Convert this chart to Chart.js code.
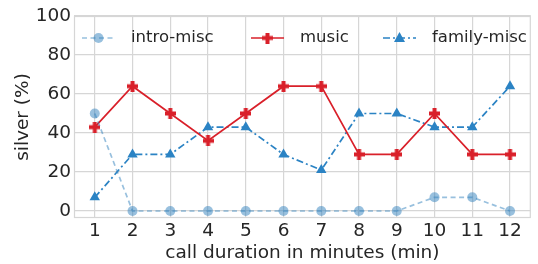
<!DOCTYPE html>
<html><head><meta charset="utf-8">
<script src="https://cdn.jsdelivr.net/npm/chart.js@4.4.0/dist/chart.umd.min.js"></script>
<style>html,body{margin:0;padding:0;background:#fff;}#wrap{width:538px;height:264px;}</style>
</head><body><div id="wrap"><canvas id="c" width="538" height="264"></canvas></div>
<script>
const categories = [1,2,3,4,5,6,7,8,9,10,11,12];
const introMisc = [50,0,0,0,0,0,0,0,0,7,7,0];
const music = [43,64,50,36,50,64,64,29,29,50,29,29];
const familyMisc = [7,29,29,43,43,29,21,50,50,43,43,64];
const yTicks = [0,20,40,60,80,100];
const seriesNames = ['intro-misc','music','family-misc'];

const RED = '#d9202a', BLUE = '#2b83c4', LBLUE = 'rgba(49,130,189,0.5)';
const FONT = "'DejaVu Sans', sans-serif";
const TXT = '#262626', GRID = '#d6d6d6';

function plusImg(color, size, arm){
  const c = document.createElement('canvas'); c.width = size; c.height = size;
  const g = c.getContext('2d'); g.fillStyle = color;
  const o = (size-arm)/2;
  g.fillRect(o,0,arm,size); g.fillRect(0,o,size,arm);
  return c;
}
const plus = plusImg(RED, 11, 4);

const toPts = arr => arr.map((v,i)=>({x:categories[i], y:v}));

const frame = {
  id:'frame',
  beforeDatasetsDraw(ch){
    const a = ch.chartArea, g = ch.ctx;
    g.save(); g.strokeStyle = GRID; g.lineWidth = 1.2;
    g.strokeRect(a.left+0.5, a.top+0.5, a.right-a.left-1, a.bottom-a.top-1);
    g.restore();
  },
  afterDraw(ch){
    const g = ch.ctx; g.save();
    const items = [
      {x:82, name:seriesNames[0], color:LBLUE, dash:[5,3.5], mk:'circle'},
      {x:251, name:seriesNames[1], color:RED, dash:[], mk:'plus'},
      {x:383, name:seriesNames[2], color:BLUE, dash:[7,3,2,3], mk:'tri'}
    ];
    const y = 38;
    items.forEach(it=>{
      g.strokeStyle = it.color; g.lineWidth = 1.6; g.setLineDash(it.dash);
      g.beginPath(); g.moveTo(it.x, y); g.lineTo(it.x+33, y); g.stroke();
      g.setLineDash([]);
      const cx = it.x+16.5;
      if(it.mk==='circle'){ g.fillStyle = it.color; g.beginPath(); g.arc(cx,y,5,0,Math.PI*2); g.fill(); }
      else if(it.mk==='plus'){ g.drawImage(plus, cx-5.5, y-5.5); }
      else { g.fillStyle = it.color; g.beginPath(); g.moveTo(cx, y-6); g.lineTo(cx+5.5,y+4); g.lineTo(cx-5.5,y+4); g.closePath(); g.fill(); }
      g.fillStyle = TXT; g.font = "16.5px " + FONT; g.textBaseline='middle'; g.textAlign='left';
      g.fillText(it.name, it.x+49, y);
    });
    g.restore();
  }
};

new Chart(document.getElementById('c'), {
  type:'line',
  data:{ datasets:[
    {label:seriesNames[0], data:toPts(introMisc), borderColor:LBLUE, backgroundColor:LBLUE, borderWidth:1.7, borderDash:[5,3.5], pointStyle:'circle', pointRadius:5, pointBorderWidth:0},
    {label:seriesNames[1], data:toPts(music), borderColor:RED, backgroundColor:RED, borderWidth:1.7, pointStyle:plus, pointRadius:5.5},
    {label:seriesNames[2], data:toPts(familyMisc), borderColor:BLUE, backgroundColor:BLUE, borderWidth:1.7, borderDash:[7,3,2,3], pointStyle:'triangle', pointRadius:6, pointBorderWidth:0}
  ]},
  options:{
    responsive:false, animation:false,
    layout:{padding:{top:16, right:1, left:0, bottom:0}},
    plugins:{legend:{display:false}, tooltip:{enabled:false}},
    scales:{
      x:{type:'linear', min:0.45, max:12.55,
        afterBuildTicks(s){ s.ticks = categories.map(v=>({value:v})); },
        afterFit(s){ s.height = 46; },
        ticks:{color:TXT, font:{family:FONT, size:18.5}, padding:2, maxRotation:0},
        grid:{color:GRID, lineWidth:1.2, drawTicks:false},
        border:{display:false},
        title:{display:true, text:'call duration in minutes (min)', color:TXT, font:{family:FONT, size:18.5}, padding:{top:0,bottom:0}}
      },
      y:{min:-3.6, max:100,
        afterBuildTicks(s){ s.ticks = yTicks.map(v=>({value:v})); },
        afterFit(s){ s.width = 74; },
        ticks:{color:TXT, font:{family:FONT, size:18.5}, padding:3},
        grid:{color:GRID, lineWidth:1.2, drawTicks:false},
        border:{display:false},
        title:{display:true, text:'silver (%)', color:TXT, font:{family:FONT, size:18.5}, padding:{top:12,bottom:0}}
      }
    }
  },
  plugins:[frame]
});
</script></body></html>
